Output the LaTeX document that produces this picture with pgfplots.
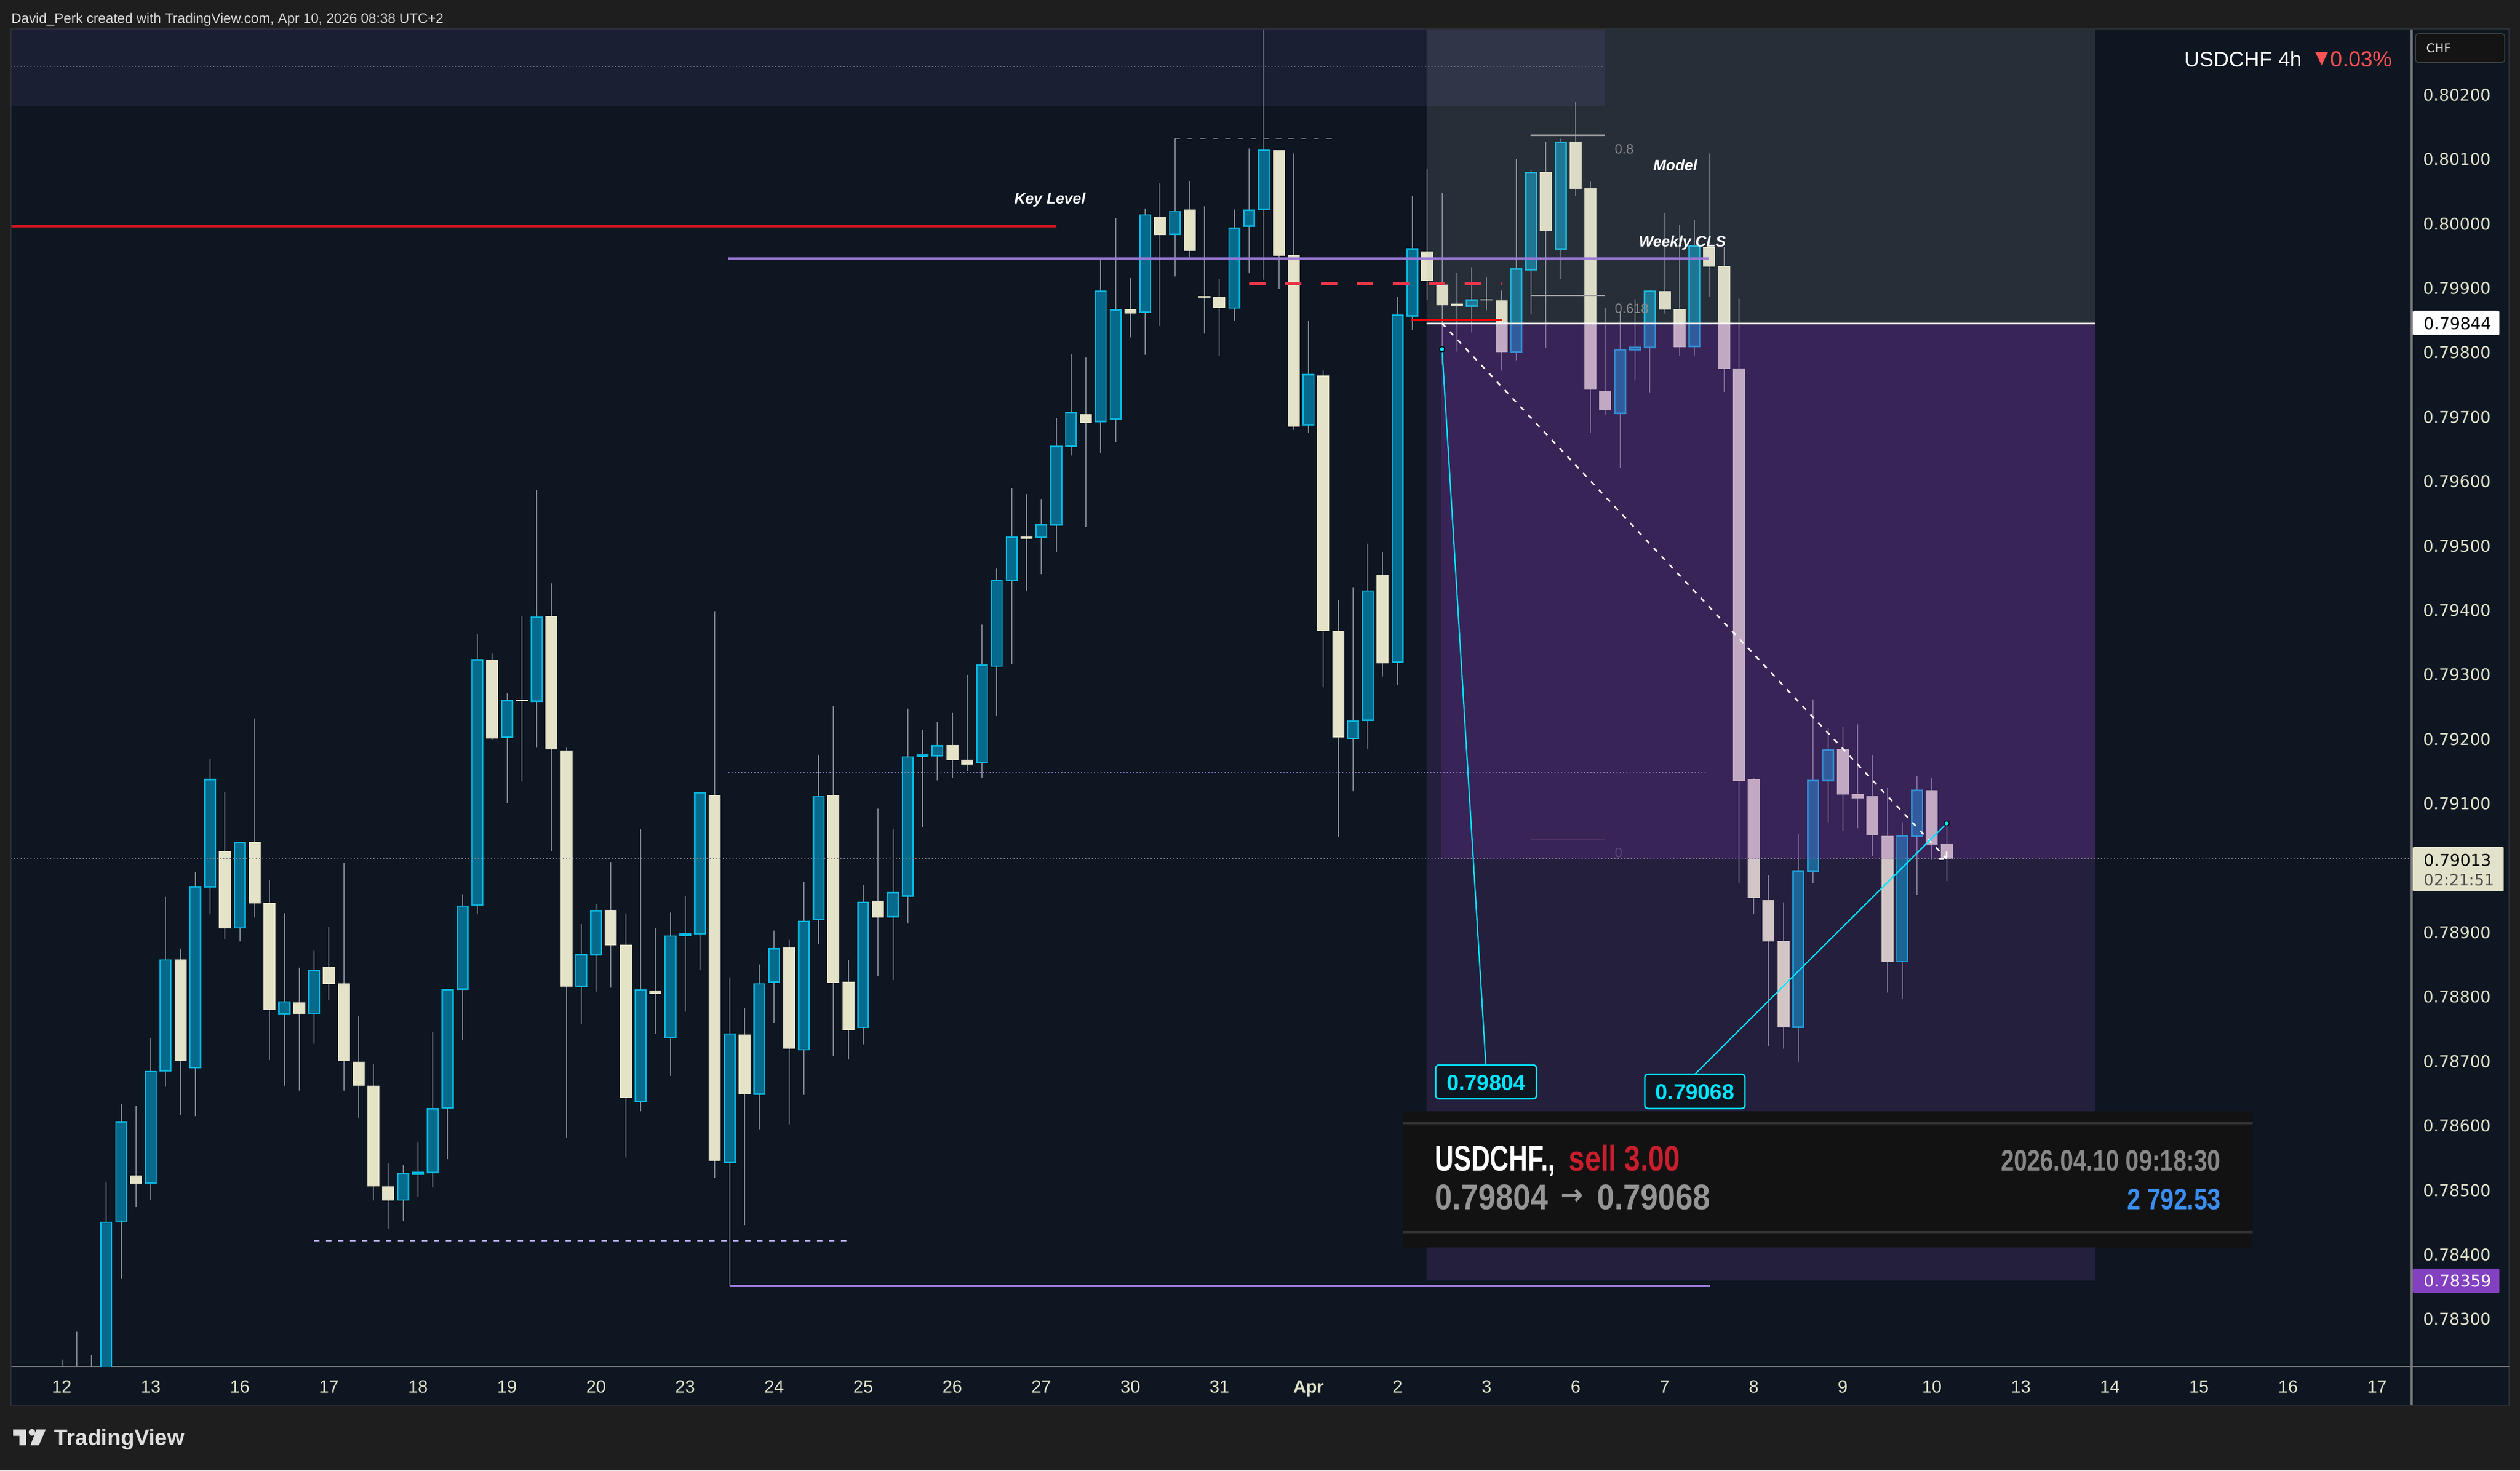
\documentclass[border=0pt]{standalone}
\usepackage{fontspec}
\usepackage{graphicx}
\usepackage{pgfplots}
\usepackage{pgfplotstable}
\pgfplotsset{compat=1.18}
\setmainfont{Liberation Sans}
\newfontfamily\dv{DejaVu Sans}
\newcommand\fs[1]{\fontsize{#1}{#1}\selectfont}
\definecolor{framec}{RGB}{30,30,30}
\definecolor{borderc}{RGB}{44,47,54}
\definecolor{bgc}{RGB}{14,22,33}
\definecolor{cream}{RGB}{228,227,200}
\definecolor{labc}{RGB}{226,226,202}
\definecolor{bullf}{RGB}{6,106,141}
\definecolor{bulle}{RGB}{8,182,222}
\definecolor{wickc}{RGB}{125,130,142}
\definecolor{ovgrey}{RGB}{180,186,190}
\definecolor{ovp1}{RGB}{132,75,187}
\definecolor{ovp2}{RGB}{136,57,187}
\definecolor{ovtop}{RGB}{140,120,210}
\definecolor{plin}{RGB}{155,120,216}
\definecolor{cyanc}{RGB}{0,229,255}
\definecolor{dashred}{RGB}{232,54,74}
\definecolor{keyred}{RGB}{200,22,29}
\definecolor{lavd}{RGB}{185,176,236}
\definecolor{axisc}{RGB}{120,120,120}
\definecolor{dotc}{RGB}{120,126,138}
% i open high low close
\pgfplotstableread{
i o h l c
4 0.784508 0.786321 0.783610 0.786046
6 0.785104 0.787343 0.784837 0.786828
7 0.786837 0.789539 0.786597 0.788561
9 0.786890 0.789930 0.786135 0.789699
10 0.789699 0.791690 0.789272 0.791361
12 0.789059 0.790383 0.788845 0.790383
15 0.787725 0.789290 0.786614 0.787912
17 0.787734 0.788712 0.787263 0.788401
23 0.784837 0.785379 0.784508 0.785246
24 0.785237 0.785743 0.784890 0.785263
25 0.785263 0.787450 0.785032 0.786250
26 0.786268 0.788108 0.785468 0.788099
27 0.788108 0.789583 0.787317 0.789396
28 0.789414 0.793618 0.789272 0.793218
30 0.792018 0.792712 0.790996 0.792587
32 0.792578 0.795858 0.791858 0.793876
35 0.788152 0.789121 0.787574 0.788641
36 0.788641 0.789432 0.788072 0.789325
39 0.786366 0.790596 0.786215 0.788090
41 0.787352 0.789299 0.786766 0.788934
42 0.788943 0.789548 0.787761 0.788970
43 0.788970 0.791156 0.788410 0.791156
3 0.781900 0.785104 0.781700 0.784490
45 0.785421 0.788292 0.783502 0.787412
47 0.786480 0.788496 0.785938 0.788189
48 0.788220 0.789018 0.787586 0.788732
50 0.787166 0.789776 0.786470 0.789162
51 0.789192 0.791741 0.788804 0.791096
54 0.787514 0.789725 0.787248 0.789458
56 0.789233 0.790584 0.788251 0.789602
57 0.789551 0.792467 0.789131 0.791710
58 0.791720 0.792130 0.790625 0.791741
59 0.791730 0.792252 0.791352 0.791884
62 0.791628 0.793767 0.791393 0.793132
63 0.793122 0.794637 0.792355 0.794453
64 0.794453 0.795885 0.793143 0.795118
66 0.795118 0.795711 0.794545 0.795312
67 0.795312 0.796970 0.794883 0.796530
68 0.796540 0.797963 0.796387 0.797052
70 0.796919 0.799447 0.796428 0.798935
71 0.796960 0.800071 0.796602 0.798649
73 0.798618 0.800225 0.797953 0.800122
75 0.799826 0.801309 0.799171 0.800173
79 0.798679 0.800204 0.798485 0.799918
80 0.799948 0.801156 0.799222 0.800194
81 0.800214 0.803100 0.799119 0.801125
84 0.796868 0.798485 0.796745 0.797646
87 0.791997 0.794350 0.791178 0.792263
88 0.792283 0.795026 0.791833 0.794289
90 0.793184 0.798853 0.792825 0.798567
91 0.798556 0.800418 0.798345 0.799595
95 0.798711 0.799315 0.798298 0.798802
98 0.798000 0.800995 0.797871 0.799284
99 0.799276 0.800827 0.798582 0.800780
101 0.799595 0.801310 0.799125 0.801249
105 0.797044 0.798617 0.796199 0.798035
106 0.798035 0.798815 0.797552 0.798069
107 0.798069 0.798961 0.797367 0.798935
110 0.798082 0.800047 0.797944 0.799638
117 0.787520 0.790510 0.786981 0.789941
118 0.789941 0.792604 0.789752 0.791342
119 0.791342 0.792161 0.790696 0.791816
124 0.788537 0.790696 0.787951 0.790480
125 0.790480 0.791415 0.789571 0.791191
}\bulltab
\pgfplotstableread{
i o h l c
0 0.782000 0.782366 0.781800 0.781900
1 0.782000 0.782793 0.781800 0.781900
2 0.782000 0.782428 0.781800 0.781900
5 0.785219 0.786295 0.784730 0.785086
8 0.788570 0.788739 0.786152 0.786988
11 0.790250 0.791165 0.788881 0.789050
13 0.790392 0.792312 0.789219 0.789441
14 0.789450 0.789805 0.787006 0.787788
16 0.787903 0.788445 0.786534 0.787725
18 0.788454 0.789076 0.787939 0.788188
19 0.788197 0.790072 0.786534 0.786988
20 0.786979 0.787690 0.786108 0.786614
21 0.786606 0.786943 0.784828 0.785050
22 0.785050 0.785406 0.784392 0.784828
29 0.793227 0.793316 0.791974 0.792001
31 0.792596 0.793894 0.791334 0.792578
33 0.793903 0.794409 0.790250 0.791832
34 0.791814 0.791858 0.785797 0.788143
37 0.789334 0.790081 0.788134 0.788792
38 0.788801 0.789281 0.785494 0.786428
40 0.788090 0.789050 0.787414 0.788037
44 0.791116 0.793972 0.785182 0.785444
46 0.787401 0.787811 0.784450 0.786475
49 0.788752 0.788875 0.786010 0.787187
52 0.791116 0.792508 0.787074 0.788210
53 0.788220 0.788558 0.787013 0.787473
55 0.789479 0.790912 0.788312 0.789223
60 0.791894 0.792396 0.791382 0.791659
61 0.791669 0.792989 0.791495 0.791597
65 0.795128 0.795793 0.794299 0.795097
69 0.797032 0.797912 0.795282 0.796899
72 0.798659 0.799140 0.798219 0.798597
74 0.800102 0.800624 0.798403 0.799815
76 0.800204 0.800644 0.799457 0.799570
77 0.798864 0.800255 0.798280 0.798843
78 0.798853 0.799130 0.797932 0.798679
82 0.801125 0.801125 0.798976 0.799488
83 0.799498 0.801074 0.796786 0.796837
85 0.797635 0.797707 0.792795 0.793675
86 0.793675 0.794146 0.790472 0.792017
89 0.794535 0.794883 0.792959 0.793163
92 0.799556 0.800840 0.798802 0.799103
93 0.799043 0.800469 0.797798 0.798720
94 0.798746 0.799228 0.798005 0.798707
96 0.798815 0.799151 0.798642 0.798798
97 0.798798 0.798948 0.797712 0.797996
100 0.800793 0.801262 0.798065 0.799879
102 0.801262 0.801878 0.800422 0.800530
103 0.800538 0.800637 0.796742 0.797414
104 0.797388 0.798681 0.797022 0.797091
108 0.798940 0.800151 0.798595 0.798655
109 0.798664 0.799974 0.797936 0.798074
111 0.799629 0.801077 0.798854 0.799323
112 0.799332 0.799629 0.797376 0.797733
113 0.797742 0.798823 0.789760 0.791342
114 0.791363 0.791389 0.789269 0.789523
115 0.789489 0.789877 0.787218 0.788847
116 0.788856 0.789455 0.787184 0.787515
120 0.791837 0.792182 0.790562 0.791126
121 0.791135 0.792217 0.790605 0.791070
122 0.791105 0.791743 0.790174 0.790493
123 0.790484 0.791230 0.788054 0.788528
126 0.791195 0.791381 0.790114 0.790351
127 0.790359 0.790683 0.789786 0.790130
}\beartab
\pgfplotsset{
  wickline/.style={draw=wickc,line width=0.5pt,forget plot,no markers},
  bullbody/.style={draw=bulle,line width=0.65pt,fill=bullf,forget plot,no markers},
  bearbody/.style={draw=none,fill=cream,forget plot,no markers},
}
\newcommand\drawcandles[3]{%
  \pgfplotstablegetrowsof{#1}%
  \pgfmathtruncatemacro\lastrow{\pgfplotsretval-1}%
  \pgfplotsforeachungrouped \rr in {0,...,\lastrow}{%
    \pgfplotstablegetelem{\rr}{i}\of{#1}\let\ci\pgfplotsretval
    \pgfplotstablegetelem{\rr}{o}\of{#1}\let\co\pgfplotsretval
    \pgfplotstablegetelem{\rr}{h}\of{#1}\let\ch\pgfplotsretval
    \pgfplotstablegetelem{\rr}{l}\of{#1}\let\cl\pgfplotsretval
    \pgfplotstablegetelem{\rr}{c}\of{#1}\let\cc\pgfplotsretval
    \pgfmathsetmacro\xa{\ci-#3}%
    \pgfmathsetmacro\xb{\ci+#3}%
    \edef\tmp{\noexpand\addplot[wickline] coordinates {(\ci,\cl)(\ci,\ch)};
      \noexpand\addplot[#2] coordinates {(\xa,\co)(\xb,\co)(\xb,\cc)(\xa,\cc)(\xa,\co)} -- cycle;}%
    \tmp
  }%
}
\begin{document}
\begin{tikzpicture}
\useasboundingbox (0,0) rectangle (1157.5pt,675.5pt);
\begin{scope}[shift={(0,675.5pt)},x=0.25pt,y=-0.25pt]
  \fill[framec] (0,0) rectangle (4630,2702);
  \fill[bgc] (20,53) rectangle (4610,2582);
\end{scope}
\begin{axis}[
  at={(5pt,47.75pt)},anchor=south west,
  scale only axis,width=1102.75pt,height=614.5pt,
  xmin=-3.429,xmax=158.33,ymin=0.782252,ymax=0.803012,
  axis y line*=right,axis x line*=bottom,
  x axis line style={-,draw=axisc,line width=0.55pt},
  y axis line style={-,draw=axisc,line width=0.85pt},
  major tick length=0pt,minor tick length=0pt,
  xtick={0,6,...,156},
  xticklabels={12,13,16,17,18,19,20,23,24,25,26,27,30,31,\textbf{Apr},2,3,6,7,8,9,10,13,14,15,16,17},
  ytick={0.783,0.784,0.785,0.786,0.787,0.788,0.789,0.791,0.792,0.793,0.794,0.795,0.796,0.797,0.798,0.799,0.800,0.801,0.802},
  scaled y ticks=false,
  yticklabel style={/pgf/number format/.cd,fixed,fixed zerofill,precision=5,assume math mode=true,/tikz/.cd,
     font=\dv\fs{7.5pt},text=labc,inner sep=0pt,anchor=west,xshift=5.2pt,yshift=-0.4pt},
  xticklabel style={font=\fs{8.15pt},text=labc,inner sep=0pt,anchor=north,yshift=-6.2pt},
]
\drawcandles{\bulltab}{bullbody}{0.3575}
\drawcandles{\beartab}{bearbody}{0.4034}
% overlays
\addplot[fill=ovgrey,fill opacity=0.15,draw=none,forget plot] coordinates {(91.95,0.803012)(137.01,0.803012)(137.01,0.79844)(91.95,0.79844)} -- cycle;
\addplot[fill=ovp1,fill opacity=0.187,draw=none,forget plot] coordinates {(91.95,0.79844)(137.01,0.79844)(137.01,0.78359)(91.95,0.78359)} -- cycle;
\addplot[fill=ovp2,fill opacity=0.2,draw=none,forget plot] coordinates {(92.94,0.79844)(137.01,0.79844)(137.01,0.79013)(92.94,0.79013)} -- cycle;
\addplot[fill=ovtop,fill opacity=0.1,draw=none,forget plot] coordinates {(-3.429,0.803012)(103.94,0.803012)(103.94,0.801812)(-3.429,0.801812)} -- cycle;
% levels
\addplot[draw=dotc,line width=0.5pt,dash pattern=on 0.5pt off 1pt,forget plot] coordinates {(-3.429,0.79013)(158.33,0.79013)};
\addplot[draw=dotc,line width=0.4pt,dash pattern=on 0.5pt off 1pt,forget plot] coordinates {(-3.429,0.802429)(103.94,0.802429)};
\addplot[draw=plin!85,line width=0.5pt,dash pattern=on 0.5pt off 1pt,forget plot] coordinates {(44.9,0.791466)(110.84,0.791466)};
\addplot[draw=keyred,line width=1.1pt,forget plot] coordinates {(-3.429,0.79995)(67,0.79995)};
\addplot[draw=plin,line width=1.05pt,forget plot] coordinates {(44.9,0.79945)(111,0.79945)};
\addplot[draw=plin,line width=1.05pt,forget plot] coordinates {(45,0.783502)(111.06,0.783502)};
\addplot[draw=dashred,line width=1.4pt,dash pattern=on 7.5pt off 9pt,forget plot] coordinates {(80,0.799057)(97,0.799057)};
\addplot[draw=red!95!black,line width=1pt,forget plot] coordinates {(90.9,0.798493)(97.05,0.798493)};
\addplot[draw=white,line width=0.75pt,forget plot] coordinates {(91.95,0.79844)(137.01,0.79844)};
\addplot[draw=lavd,line width=0.7pt,dash pattern=on 2.6pt off 2.9pt,forget plot] coordinates {(17,0.784203)(52.9,0.784203)};
\addplot[draw=gray!70,line width=0.4pt,dash pattern=on 2.4pt off 3.4pt,forget plot] coordinates {(75,0.80131)(85.94,0.80131)};
\addplot[draw=gray!75,line width=0.6pt,forget plot] coordinates {(98.96,0.801361)(104,0.801361)};
\addplot[draw=gray!75,line width=0.6pt,forget plot] coordinates {(98.96,0.798873)(104,0.798873)};
\addplot[draw=white!25!ovp2!50!black,line width=0.5pt,forget plot] coordinates {(98.96,0.790438)(104,0.790438)};
% trade path
\addplot[draw=white,line width=0.7pt,dash pattern=on 2.25pt off 3pt,forget plot] coordinates {(93,0.79844)(127,0.79013)};
\addplot[draw=white,line width=0.7pt,forget plot] coordinates {(126.45,0.79013)(126.84,0.79013)};
\addplot[draw=white,line width=0.7pt,forget plot] coordinates {(127,0.790156)(127,0.790241)};
\addplot[draw=cyanc,line width=0.6pt,forget plot] coordinates {(93,0.79804)(95.95,0.786939)};
\addplot[draw=cyanc,line width=0.6pt,forget plot] coordinates {(127,0.79068)(110.03,0.786787)};
\addplot[only marks,mark=*,mark size=1.2pt,mark options={fill=cyanc,draw=black,line width=0.4pt},forget plot] coordinates {(93,0.79804)(127,0.79068)};
\end{axis}
\begin{scope}[shift={(0,675.5pt)},x=0.25pt,y=-0.25pt]
  % frame lines
  \draw[borderc,line width=0.6pt] (20,53) rectangle (4610,2582);
  \draw[axisc,line width=0.55pt] (4431,2511) -- (4610,2511);
  \draw[axisc,line width=0.85pt] (4431,2511) -- (4431,2582);
  % header and footer
  \node[anchor=west,inner sep=0pt,text=black!15] at (20,36) {\fs{6.35pt}David\_Perk created with TradingView.com, Apr 10, 2026 08:38 UTC+2};
  \fill[black!13] (24.2,2626.7)--(47.8,2626.7)--(47.8,2655.7)--(35.7,2655.7)--(35.7,2638.3)--(24.2,2638.3)--cycle;
  \fill[black!13] (58.7,2632) circle[radius=6];
  \fill[black!13] (67,2626.7)--(84,2626.7)--(71.4,2655.7)--(56,2655.7)--cycle;
  \node[anchor=base west,inner sep=0pt,text=black!13] at (99,2655) {\fs{10.2pt}\bfseries TradingView};
  % title
  \node[anchor=base west,inner sep=0pt,text=white] at (4013,123) {\fs{9.7pt}USDCHF 4h};
  \fill[red!68!white] (4254,96)--(4277,96)--(4265.5,120)--cycle;
  \node[anchor=base west,inner sep=0pt,text=red!68!white] at (4281,123) {\fs{10pt}0.03\%};
  % currency box
  \draw[fill=black!92!white,draw=black!75!white,line width=0.4pt,rounded corners=1.5pt] (4438,62) rectangle (4602,115);
  \node[anchor=west,inner sep=0pt,text=black!12] at (4457,88) {\dv\fs{5.6pt}CHF};
  % price tags
  \fill[white,rounded corners=0.6pt] (4433,571) rectangle (4592,616);
  \node[anchor=west,inner sep=0pt,text=black] at (4453,595) {\dv\fs{7.5pt}0.79844};
  \fill[labc,rounded corners=0.6pt] (4433,1556) rectangle (4600,1638);
  \node[anchor=west,inner sep=0pt,text=black] at (4453,1581) {\dv\fs{7.5pt}0.79013};
  \node[anchor=west,inner sep=0pt,text=black!70] at (4453,1617) {\dv\fs{7.2pt}02:21:51};
  \fill[rounded corners=0.6pt,fill={rgb,255:red,131;green,64;blue,192}] (4433,2331) rectangle (4592,2376);
  \node[anchor=west,inner sep=0pt,text=white] at (4453,2354) {\dv\fs{7.5pt}0.78359};
  % annotations
  \node[anchor=center,inner sep=0pt,text=white] at (1929,367) {\fs{7pt}\bfseries\itshape Key Level};
  \node[anchor=center,inner sep=0pt,text=white] at (3078,304) {\fs{7pt}\bfseries\itshape Model};
  \node[anchor=center,inner sep=0pt,text=white] at (3091,446) {\fs{7pt}\bfseries\itshape Weekly CLS};
  \node[anchor=west,inner sep=0pt,text=gray!90!white] at (2966,274) {\fs{6.2pt}0.8};
  \node[anchor=west,inner sep=0pt,text=gray!90!white] at (2966,567) {\fs{6.2pt}0.618};
  \node[anchor=west,inner sep=0pt,text={rgb,255:red,90;green,70;blue,120}] at (2966,1567) {\fs{6.2pt}0};
  % cyan price boxes
  \draw[fill=bgc,draw=cyanc,line width=0.7pt,rounded corners=1.5pt] (2638,1957) rectangle (2823,2019);
  \node[inner sep=0pt,text=cyanc] at (2730.5,1990) {\fs{10pt}\bfseries 0.79804};
  \draw[fill=bgc,draw=cyanc,line width=0.7pt,rounded corners=1.5pt] (3022,1974) rectangle (3206,2037);
  \node[inner sep=0pt,text=cyanc] at (3114,2007) {\fs{10pt}\bfseries 0.79068};
  % trade panel
  \fill[black!93!white] (2578,2042) rectangle (4139,2292);
  \fill[black!80!white] (2578,2062) rectangle (4139,2066);
  \fill[black!80!white] (2578,2262) rectangle (4139,2266);
  \node[anchor=base west,inner sep=0pt,text=white] at (2636,2152) {\fs{16.4pt}\bfseries\scalebox{0.73}[1]{USDCHF.,}};
  \node[anchor=base west,inner sep=0pt,text={rgb,255:red,200;green,30;blue,45}] at (2882,2152) {\fs{16.4pt}\bfseries\scalebox{0.8}[1]{sell 3.00}};
  \node[anchor=base west,inner sep=0pt,text=black!42] at (2636,2222) {\fs{16.4pt}\bfseries\scalebox{0.875}[1]{0.79804}};
  \node[anchor=center,inner sep=0pt,text=black!42] at (2888,2199) {\dv\fs{13pt}\bfseries \scalebox{0.95}[1]{→}};
  \node[anchor=base west,inner sep=0pt,text=black!42] at (2934,2222) {\fs{16.4pt}\bfseries\scalebox{0.875}[1]{0.79068}};
  \node[anchor=base east,inner sep=0pt,text=black!47] at (4081,2152) {\fs{13.6pt}\bfseries\scalebox{0.80}[1]{2026.04.10 09:18:30}};
  \node[anchor=base east,inner sep=0pt,text={rgb,255:red,59;green,141;blue,240}] at (4081,2222) {\fs{13.6pt}\bfseries\scalebox{0.81}[1]{2 792.53}};
\end{scope}
\end{tikzpicture}
\end{document}
